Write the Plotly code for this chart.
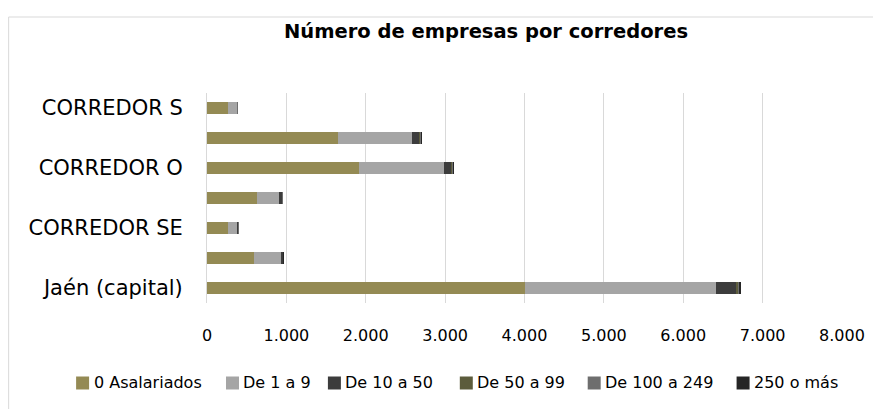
import plotly.graph_objects as go

# categories bottom -> top (only every other one is labelled in the original)
CATEGORIES = ["Jaén (capital)", "CORREDOR NE", "CORREDOR SE", "CORREDOR E",
              "CORREDOR O", "CORREDOR N", "CORREDOR S"]
TICK_LABELS = ["Jaén (capital)", "CORREDOR SE", "CORREDOR O", "CORREDOR S"]

SERIES = ["0 Asalariados", "De 1 a 9", "De 10 a 50", "De 50 a 99",
          "De 100 a 249", "250 o más"]

asalariados_0 = [4000, 588, 261, 626, 1914, 1646, 265]
de_1_a_9 = [2418, 340, 117, 277, 1067, 941, 113]
de_10_a_50 = [257, 34, 15, 47, 105, 92, 10]
de_50_a_99 = [25, 5, 2, 4, 12, 12, 1]
de_100_a_249 = [12, 2, 1, 1, 6, 6, 1]
de_250_o_mas = [8, 1, 0, 0, 2, 2, 0]

VALUES = [asalariados_0, de_1_a_9, de_10_a_50, de_50_a_99, de_100_a_249, de_250_o_mas]
COLORS = ["#948A54", "#A5A5A5", "#3C3C3C", "#5C5C3C", "#6E6E6E", "#262626"]

FONT = "DejaVu Sans"

# page body has an 8px margin, so the figure is drawn 8px in from the window edge
W, H = 873, 401
L, R, T, B = 199, 38.5, 85, 106
PW, PH = W - L - R, H - T - B


def px(x):  # figure pixel -> paper x
    return (x - L) / PW


def py(y):  # figure pixel (from top) -> paper y
    return 1 - (y - T) / PH


fig = go.Figure()
for name, vals, col in zip(SERIES, VALUES, COLORS):
    fig.add_trace(go.Bar(
        y=CATEGORIES, x=vals, name=name, orientation="h",
        marker=dict(color=col, line=dict(width=0)),
        showlegend=False,
    ))

# chart border (light grey frame, cut by the window)
fig.add_shape(type="rect", xref="paper", yref="paper",
              x0=px(0.5), x1=px(W + 20), y0=py(H + 20), y1=py(9),
              line=dict(color="#D9D9D9", width=1), fillcolor="rgba(0,0,0,0)",
              layer="below")

# legend row in the Excel style: small square + label
LEGEND_X = [68, 218, 320, 452, 580, 729]
LEGEND_Y = 375
for name, col, lx in zip(SERIES, COLORS, LEGEND_X):
    fig.add_shape(type="rect", xref="paper", yref="paper",
                  x0=px(lx), x1=px(lx + 13), y0=py(LEGEND_Y + 6.5), y1=py(LEGEND_Y - 6.5),
                  line=dict(width=0), fillcolor=col)
    fig.add_annotation(xref="paper", yref="paper", x=px(lx + 15.5), y=py(LEGEND_Y - 1),
                       text=name, showarrow=False, xanchor="left", yanchor="middle",
                       font=dict(family=FONT, size=16, color="#000000"))

fig.update_layout(
    title=dict(text="<b>Número de empresas por corredores</b>",
               x=478 / W, xanchor="center", y=1 - 23 / H, yanchor="middle",
               font=dict(family=FONT, size=19.5, color="#000000")),
    barmode="stack",
    bargap=0.61,
    width=W, height=H,
    margin=dict(l=L, r=R, t=T, b=B, autoexpand=False),
    paper_bgcolor="white", plot_bgcolor="white",
    separators=",.",
    font=dict(family=FONT, color="#000000"),
    xaxis=dict(range=[0, 8000], dtick=1000, tickformat=",d",
               showgrid=True, gridcolor="#D9D9D9", gridwidth=1,
               zeroline=False, showline=False, ticks="",
               ticklabelstandoff=21,
               tickfont=dict(size=16, color="#000000")),
    yaxis=dict(categoryorder="array", categoryarray=CATEGORIES,
               tickmode="array", tickvals=TICK_LABELS, ticktext=TICK_LABELS,
               showline=True, linecolor="#D9D9D9", linewidth=1, ticks="",
               showgrid=False, ticklabelstandoff=19,
               tickfont=dict(size=21, color="#000000")),
    showlegend=False,
)

fig.write_html("out.html")
